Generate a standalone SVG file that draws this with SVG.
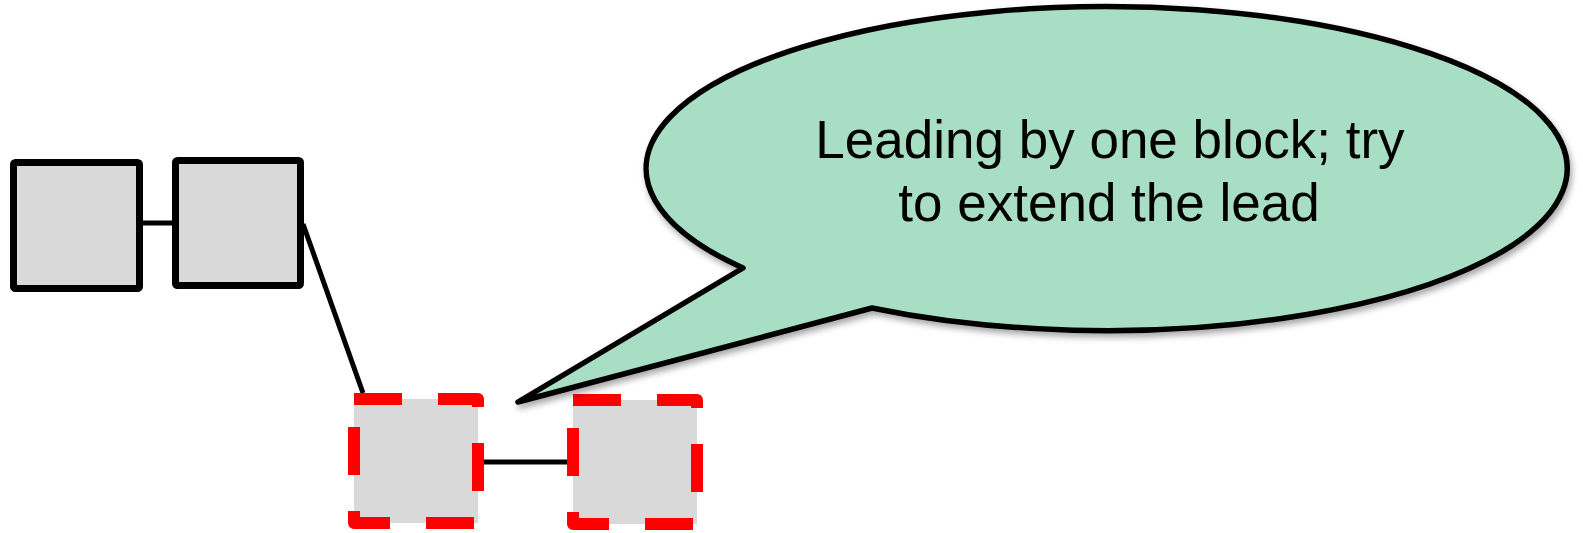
<svg xmlns="http://www.w3.org/2000/svg" width="1583" height="533" viewBox="0 0 1583 533">
<style>
.blk{fill:#d9d9d9;stroke:#000;stroke-width:7;stroke-linejoin:round}
.new{fill:#d9d9d9;stroke:#ff0000;stroke-width:12;stroke-dasharray:48 36;stroke-linejoin:round}
.link{stroke:#000;stroke-width:5;fill:none}
.txt{font-family:"Liberation Sans",Arial,sans-serif;font-size:53px;fill:#000}
</style>
<defs>
<filter id="sh" x="-10%" y="-10%" width="120%" height="130%">
<feDropShadow dx="2" dy="4" stdDeviation="3" flood-color="#000" flood-opacity="0.35"/>
</filter>
</defs>
<g id="connectors">
<line class="link" x1="139" y1="223" x2="176" y2="223"/>
<line class="link" x1="303" y1="224" x2="363" y2="393"/>
<line class="link" x1="478" y1="462" x2="573" y2="462"/>
</g>
<g id="block1">
<rect class="blk" x="13.5" y="162.5" width="126" height="126" rx="2"/>
</g>
<g id="block2">
<rect class="blk" x="175.5" y="160.5" width="125" height="125" rx="2"/>
</g>
<g id="block3">
<path class="new" d="M354 399 H478 V523 H354 Z"/>
</g>
<g id="block4">
<path class="new" d="M573 400 H697 V524 H573 Z"/>
</g>
<g id="callout">
<path d="M743 268 L518 402 L872 308 A460.5 162 0 1 0 743 268 Z" fill="#a7dec4" stroke="#000" stroke-width="5.5" stroke-linejoin="round" filter="url(#sh)"/>
<text class="txt" x="1110" y="158" text-anchor="middle">Leading by one block; try</text>
<text class="txt" x="1109" y="221" text-anchor="middle">to extend the lead</text>
</g>
</svg>
